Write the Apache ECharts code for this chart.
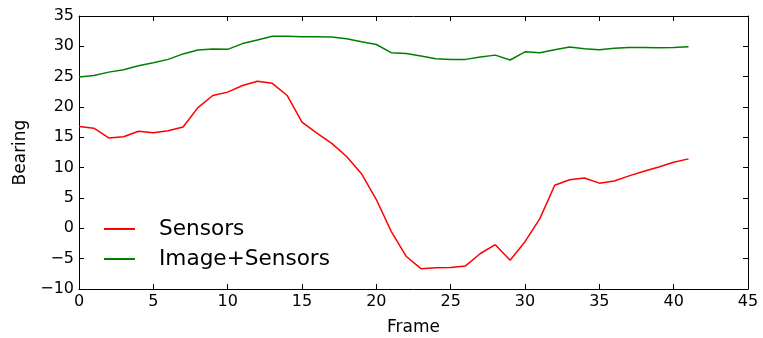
<!DOCTYPE html>
<html><head><meta charset="utf-8">
<script src="https://cdn.jsdelivr.net/npm/echarts@6/dist/echarts.min.js"></script>
<style>html,body{margin:0;padding:0;background:#fff}#c{width:763px;height:338px}</style>
</head><body><div id="c"></div>
<script>
const frames = [0,1,2,3,4,5,6,7,8,9,10,11,12,13,14,15,16,17,18,19,20,21,22,23,24,25,26,27,28,29,30,31,32,33,34,35,36,37,38,39,40,41];
const sensors = [16.8,16.5,14.9,15.1,16.0,15.75,16.1,16.7,19.9,21.9,22.45,23.55,24.25,23.9,21.9,17.5,15.7,14.0,11.85,9.0,4.75,-0.5,-4.6,-6.65,-6.5,-6.45,-6.2,-4.15,-2.7,-5.25,-2.2,1.6,7.1,8.0,8.3,7.45,7.8,8.65,9.4,10.1,10.9,11.45];
const imageSensors = [24.95,25.2,25.75,26.15,26.8,27.3,27.85,28.75,29.4,29.55,29.5,30.45,31.05,31.65,31.65,31.6,31.6,31.55,31.25,30.75,30.3,28.95,28.8,28.4,27.95,27.85,27.85,28.25,28.55,27.75,29.1,28.95,29.45,29.9,29.6,29.45,29.7,29.8,29.8,29.75,29.8,29.95];
const xTicks = {min:0, max:45, interval:5};
const yTicks = {min:-10, max:35, interval:5};

const F = 'DejaVu Sans';
const fmt = v => String(v).replace('-', '\u2212');
const chart = echarts.init(document.getElementById('c'), null, {renderer:'canvas'});
const axBase = {
  type:'value', splitLine:{show:false},
  axisLine:{show:true, onZero:false, lineStyle:{color:'#000', width:1}},
  axisTick:{show:true, inside:true, length:5, lineStyle:{color:'#000'}},
};
chart.setOption({
  animation:false,
  grid:{left:79, right:15, top:16, bottom:49, containLabel:false, outerBoundsMode:'none'},
  xAxis:[
    Object.assign({}, axBase, {min:xTicks.min, max:xTicks.max, interval:xTicks.interval, position:'bottom',
      name:'Frame', nameLocation:'middle', nameGap:30, nameTextStyle:{fontFamily:F, fontSize:17, color:'#000'},
      axisLabel:{fontFamily:F, fontSize:16, color:'#000', margin:5, formatter:fmt}}),
    Object.assign({}, axBase, {min:xTicks.min, max:xTicks.max, interval:xTicks.interval, position:'top', axisLabel:{show:false}})
  ],
  yAxis:[
    Object.assign({}, axBase, {min:yTicks.min, max:yTicks.max, interval:yTicks.interval, position:'left',
      name:'Bearing', nameLocation:'middle', nameGap:50, nameRotate:90, nameTextStyle:{fontFamily:F, fontSize:17, color:'#000'},
      axisLabel:{fontFamily:F, fontSize:16, color:'#000', margin:5, formatter:fmt}}),
    Object.assign({}, axBase, {min:yTicks.min, max:yTicks.max, interval:yTicks.interval, position:'right', axisLabel:{show:false}})
  ],
  legend:{
    show:true, left:104, top:218, padding:0, orient:'vertical', itemGap:8, itemWidth:31, itemHeight:2,
    icon:'rect',
    textStyle:{fontFamily:F, fontSize:21.6, color:'#000', padding:[0,0,0,19], lineHeight:22},
    data:['Sensors','Image+Sensors']
  },
  series:[
    {name:'Sensors', type:'line', showSymbol:false, symbol:'none', data:frames.map((f,i)=>[f,sensors[i]]),
     lineStyle:{color:'#ff0000', width:1.5}, itemStyle:{color:'#ff0000'}},
    {name:'Image+Sensors', type:'line', showSymbol:false, symbol:'none', data:frames.map((f,i)=>[f,imageSensors[i]]),
     lineStyle:{color:'#008000', width:1.5}, itemStyle:{color:'#008000'}}
  ]
});
</script></body></html>
